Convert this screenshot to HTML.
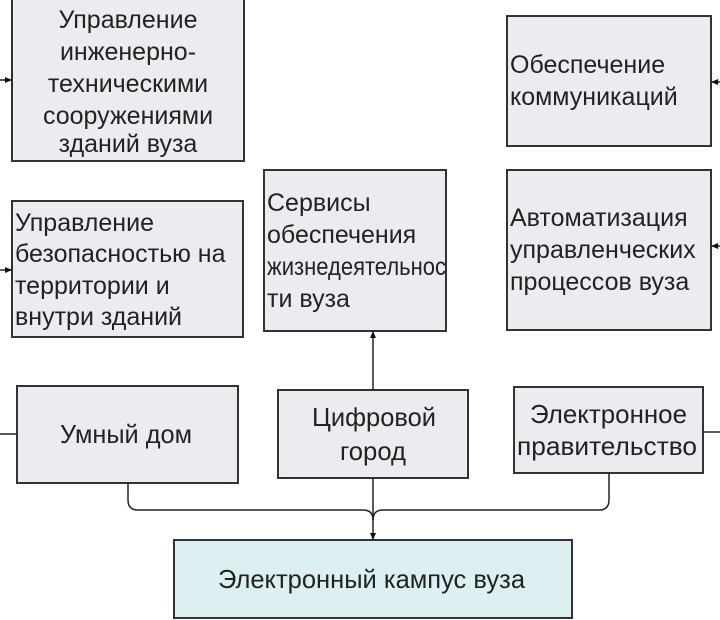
<!DOCTYPE html>
<html><head><meta charset="utf-8"><style>html,body{margin:0;padding:0;background:#fff}svg{display:block}</style></head>
<body>
<svg width="720" height="620" viewBox="0 0 720 620" xmlns="http://www.w3.org/2000/svg" font-family="Liberation Sans, DejaVu Sans, sans-serif" font-size="25" fill="#222">
<defs><marker id="a" markerWidth="8" markerHeight="8" refX="7" refY="4" orient="auto" markerUnits="userSpaceOnUse"><path d="M0,1 L7,4 L0,7 Z" fill="#111"/></marker></defs>
<g stroke="#333" stroke-width="2" fill="#ecebf0">
<rect x="12" y="-2" width="232" height="163"/>
<rect x="12" y="201" width="231" height="136"/>
<rect x="264" y="170" width="182" height="161"/>
<rect x="507" y="16" width="204" height="130"/>
<rect x="507" y="170" width="204" height="160"/>
<rect x="17" y="386" width="221" height="97"/>
<rect x="278" y="390" width="190" height="88"/>
<rect x="514" y="387" width="189" height="86"/>
<rect x="174" y="540" width="398" height="78" fill="#ddf0f1"/>
</g>
<g stroke="#222" stroke-width="1.5" fill="none">
<line x1="0" y1="80" x2="12" y2="80" marker-end="url(#a)"/>
<line x1="0" y1="270" x2="12" y2="270" marker-end="url(#a)"/>
<line x1="720" y1="82" x2="711" y2="82" marker-end="url(#a)"/>
<line x1="720" y1="246" x2="711" y2="246" marker-end="url(#a)"/>
<line x1="0" y1="434" x2="17" y2="434"/>
<line x1="703" y1="432" x2="720" y2="432"/>
<line x1="373" y1="390" x2="373" y2="331" marker-end="url(#a)"/>
<path d="M128,483 V500 Q128,510 138,510 H363 Q373,510 373,520"/>
<path d="M609,473 V500 Q609,510 599,510 H383 Q373,510 373,520"/>
<line x1="373" y1="478" x2="373" y2="540" marker-end="url(#a)"/>
</g>
<g text-anchor="middle">
<text x="128" y="28">Управление</text>
<text x="128" y="60">инженерно-</text>
<text x="128" y="92">техническими</text>
<text x="128" y="124">сооружениями</text>
<text x="128" y="152">зданий вуза</text>
</g>
<g font-size="26">
<text x="60" y="443" textLength="132" lengthAdjust="spacingAndGlyphs">Умный дом</text>
<text x="312" y="426" textLength="124" lengthAdjust="spacingAndGlyphs">Цифровой</text>
<text x="340" y="460" textLength="66" lengthAdjust="spacingAndGlyphs">город</text>
<text x="530" y="423" textLength="157" lengthAdjust="spacingAndGlyphs">Электронное</text>
<text x="517" y="455" textLength="180" lengthAdjust="spacingAndGlyphs">правительство</text>
<text x="218" y="588" textLength="307" lengthAdjust="spacingAndGlyphs">Электронный кампус вуза</text>
</g>
<g>
<text x="15" y="231">Управление</text>
<text x="15" y="262">безопасностью на</text>
<text x="15" y="294">территории и</text>
<text x="15" y="325">внутри зданий</text>
<text x="267" y="211">Сервисы</text>
<text x="267" y="243">обеспечения</text>
<text x="267" y="275" textLength="179" lengthAdjust="spacingAndGlyphs">жизнедеятельнос</text>
<text x="267" y="307">ти вуза</text>
<text x="510" y="73">Обеспечение</text>
<text x="510" y="105">коммуникаций</text>
<text x="510" y="226">Автоматизация</text>
<text x="510" y="258">управленческих</text>
<text x="510" y="290">процессов вуза</text>
</g>
</svg>
</body></html>
